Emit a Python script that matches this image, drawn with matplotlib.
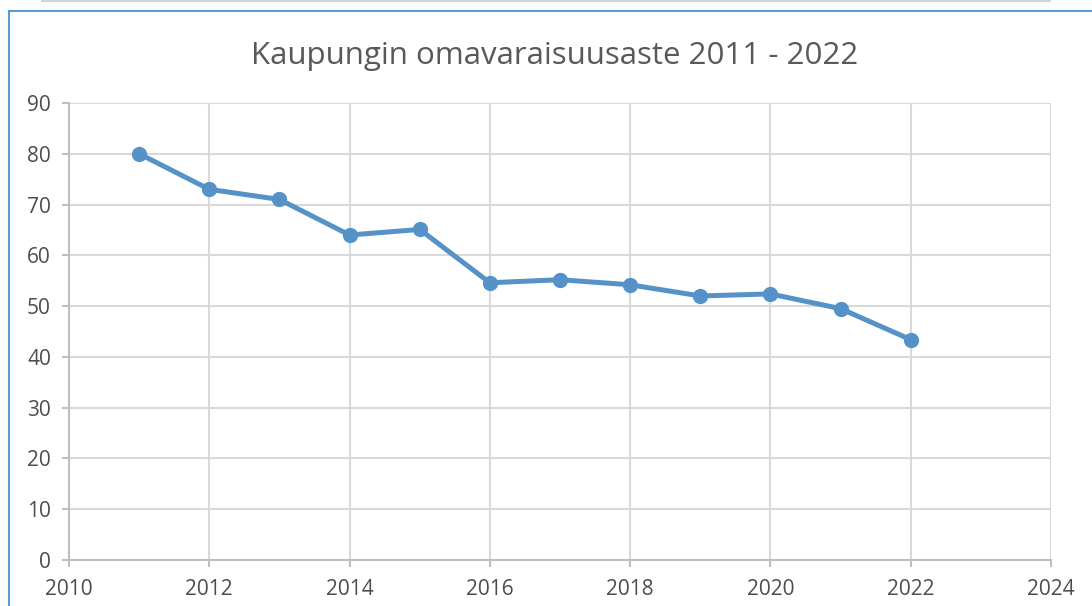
import matplotlib.pyplot as plt
from matplotlib.lines import Line2D

years = [2011, 2012, 2013, 2014, 2015, 2016, 2017, 2018, 2019, 2020, 2021, 2022]
omavaraisuusaste = [80.0, 73.0, 71.0, 64.0, 65.1, 54.6, 55.2, 54.2, 52.0, 52.4, 49.5, 43.4]
x_ticks = [2010, 2012, 2014, 2016, 2018, 2020, 2022, 2024]
y_ticks = [0, 10, 20, 30, 40, 50, 60, 70, 80, 90]

plt.rcParams['font.family'] = ['Open Sans', 'DejaVu Sans']

W, H = 1092, 606
fig = plt.figure(figsize=(W / 100, H / 100), dpi=100)

# plot area in pixels: left 69, right 1051, top 103, bottom 560
ax = fig.add_axes([69 / W, 1 - 560 / H, (1051 - 69) / W, (560 - 103) / H])

ax.plot(years, omavaraisuusaste, color='#5592c8', linewidth=3.6, marker='o',
        markersize=11, markeredgewidth=0, zorder=3)

ax.set_xlim(2010, 2024)
ax.set_ylim(0, 90)
ax.set_xticks(x_ticks)
ax.set_yticks(y_ticks)
ax.grid(True, color='#d9d9d9', linewidth=1.5)
ax.set_axisbelow(True)
for side in ['top', 'right']:
    ax.spines[side].set_visible(False)
for side in ['left', 'bottom']:
    ax.spines[side].set_color('#bfbfbf')
    ax.spines[side].set_linewidth(1.5)
ax.tick_params(axis='both', colors='#bfbfbf', length=5, width=1.5,
               labelcolor='#4d4d4d', labelsize=15)
ax.tick_params(axis='x', pad=9)
ax.tick_params(axis='y', pad=8)

fig.text(555 / W, 1 - 56 / H, 'Kaupungin omavaraisuusaste 2011 - 2022',
         ha='center', va='center', fontsize=22.5, color='#595959')

# chart frame
fig.add_artist(Line2D([9 / W, 9 / W], [0, 1 - 11 / H], color='#5b9bd5',
                      linewidth=1.5, transform=fig.transFigure))
fig.add_artist(Line2D([9 / W, 1], [1 - 11 / H, 1 - 11 / H], color='#5b9bd5',
                      linewidth=1.5, transform=fig.transFigure))
fig.add_artist(Line2D([42 / W, 1050 / W], [1 - 1 / H, 1 - 1 / H], color='#d0d5da',
                      linewidth=1.5, transform=fig.transFigure))

fig.savefig('out.png', dpi=100)
